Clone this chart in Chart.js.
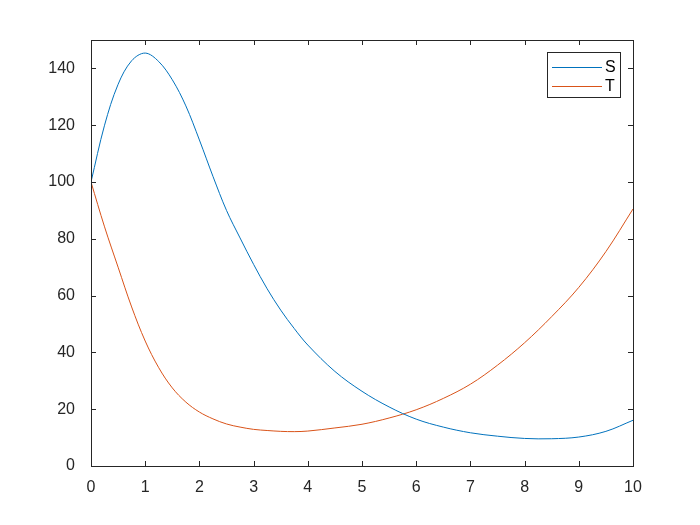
<!DOCTYPE html>
<html>
<head>
<meta charset="utf-8">
<script src="https://cdn.jsdelivr.net/npm/chart.js@4"></script>
<style>
  body { margin: 0; background: #fff; }
  #chart { display: block; }
</style>
</head>
<body>
<canvas id="chart" width="700" height="525"></canvas>
<script>
// data
const tValues = [0, 0.25, 0.5, 0.75, 1, 1.25, 1.5, 1.75, 2, 2.25, 2.5, 2.75, 3, 3.25, 3.5, 3.75, 4, 4.5, 5, 5.5, 6, 6.5, 7, 7.5, 8, 8.5, 9, 9.5, 10];
const sValues = [100, 120, 134.4, 142.7, 145.4, 142.4, 136, 126.8, 114.8, 102, 90, 80.3, 71, 62.4, 54.9, 48.4, 42.6, 33.3, 26.3, 20.8, 16.5, 13.7, 11.7, 10.5, 9.7, 9.6, 10.2, 12.2, 16.1];
const tSeries = [100, 84.2, 70, 56, 44, 34.6, 27.5, 22.5, 19, 16.6, 14.8, 13.7, 12.9, 12.5, 12.2, 12.1, 12.3, 13.4, 14.7, 16.9, 19.8, 23.8, 28.8, 35.5, 43.4, 52.6, 62.9, 75.5, 90.5];
const xTicks = [0, 1, 2, 3, 4, 5, 6, 7, 8, 9, 10];
const yTicks = [0, 20, 40, 60, 80, 100, 120, 140];
const seriesNames = ['S', 'T'];
const seriesColors = ['#0072BD', '#D95319'];

const axisColor = '#262626';
const fontFamily = '"Liberation Sans", Arial, sans-serif';

function toPoints(values) {
    return tValues.map((t, i) => ({ x: t, y: values[i] }));
}

// box, inward ticks on all four sides, and the legend inside the axes
const matlabAxes = {
    id: 'matlabAxes',
    afterDraw(chart) {
        const ctx = chart.ctx;
        const area = chart.chartArea;
        const xs = chart.scales.x;
        const ys = chart.scales.y;
        const len = 5;
        ctx.save();
        ctx.strokeStyle = axisColor;
        ctx.lineWidth = 1;
        ctx.beginPath();
        xTicks.forEach(v => {
            const px = Math.round(xs.getPixelForValue(v)) + 0.5;
            ctx.moveTo(px, area.bottom);
            ctx.lineTo(px, area.bottom - len);
            ctx.moveTo(px, area.top);
            ctx.lineTo(px, area.top + len);
        });
        yTicks.forEach(v => {
            const py = Math.round(ys.getPixelForValue(v)) + 0.5;
            ctx.moveTo(area.left, py);
            ctx.lineTo(area.left + len, py);
            ctx.moveTo(area.right, py);
            ctx.lineTo(area.right - len, py);
        });
        ctx.stroke();
        ctx.strokeRect(Math.round(area.left) + 0.5, Math.round(area.top) + 0.5,
            Math.round(area.right - area.left), Math.round(area.bottom - area.top));

        // legend
        const bx = 547, by = 52, bw = 73, bh = 45;
        ctx.fillStyle = '#fff';
        ctx.fillRect(bx, by, bw, bh);
        ctx.strokeStyle = axisColor;
        ctx.strokeRect(bx + 0.5, by + 0.5, bw, bh);
        ctx.font = '16px ' + fontFamily;
        ctx.textBaseline = 'middle';
        chart.data.datasets.forEach((ds, i) => {
            const ly = by + 15 + i * 19;
            ctx.strokeStyle = ds.borderColor;
            ctx.beginPath();
            ctx.moveTo(bx + 5, ly + 0.5);
            ctx.lineTo(bx + 55, ly + 0.5);
            ctx.stroke();
            ctx.fillStyle = '#000';
            ctx.fillText(ds.label, bx + 58, ly + 1);
        });
        ctx.restore();
    }
};

const ctx = document.getElementById('chart').getContext('2d');
new Chart(ctx, {
    type: 'line',
    data: {
        datasets: [
            {
                label: seriesNames[0],
                data: toPoints(sValues),
                borderColor: seriesColors[0],
                borderWidth: 1,
                pointRadius: 0,
                tension: 0.35,
                fill: false
            },
            {
                label: seriesNames[1],
                data: toPoints(tSeries),
                borderColor: seriesColors[1],
                borderWidth: 1,
                pointRadius: 0,
                tension: 0.35,
                fill: false
            }
        ]
    },
    options: {
        responsive: false,
        animation: false,
        events: [],
        layout: { padding: { top: 40, right: 67, left: 0, bottom: 0 } },
        plugins: {
            legend: { display: false },
            tooltip: { enabled: false }
        },
        scales: {
            x: {
                type: 'linear',
                min: 0,
                max: 10,
                afterBuildTicks: scale => { scale.ticks = xTicks.map(v => ({ value: v })); },
                afterFit: scale => { scale.height = 59; },
                grid: { display: false },
                border: { display: false },
                ticks: { color: axisColor, font: { family: fontFamily, size: 16 }, padding: 4, maxRotation: 0 }
            },
            y: {
                type: 'linear',
                min: 0,
                max: 150,
                afterBuildTicks: scale => { scale.ticks = yTicks.map(v => ({ value: v })); },
                afterFit: scale => { scale.width = 91; },
                grid: { display: false },
                border: { display: false },
                ticks: { color: axisColor, font: { family: fontFamily, size: 16 }, padding: 8 }
            }
        }
    },
    plugins: [matlabAxes]
});
</script>
</body>
</html>
